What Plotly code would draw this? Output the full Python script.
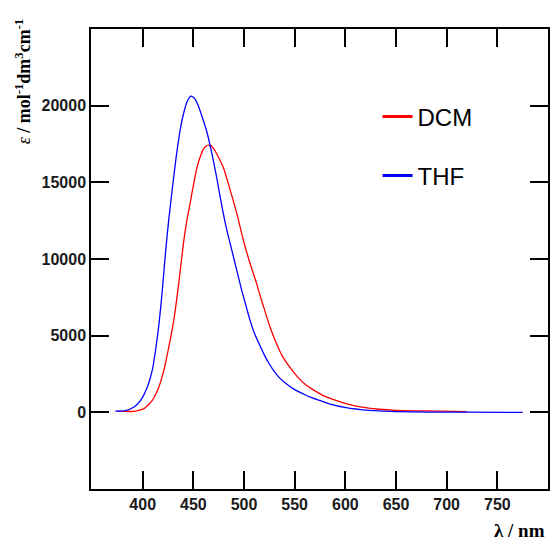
import plotly.graph_objects as go

# Absorption spectra: wavelength (nm) vs molar absorptivity
dcm_wl = [375, 382, 391.5, 401.3, 405, 409.5, 413, 416, 420.9, 425.8, 430.7, 435.6,
          440, 443.7, 447, 450.3, 453, 456.2, 460.1, 463.5, 466.7, 470, 473.2, 479.7,
          486.3, 492.8, 499.3, 505.9, 512.4, 515.7, 519, 525.5, 532, 538, 545, 553,
          561.5, 570, 577.7, 590, 600.7, 615, 633.3, 650, 682, 720]
dcm_eps = [80, 60, 65, 240, 450, 780, 1200, 1650, 2750, 4270, 6010, 8410,
           10900, 12550, 13700, 14900, 15800, 16550, 17180, 17400, 17420, 17200, 16850, 15950,
           14510, 12990, 11240, 9720, 8410, 7650, 6950, 5600, 4490, 3650, 2960, 2300,
           1760, 1400, 1110, 800, 570, 350, 200, 130, 90, 50]

thf_wl = [373, 382, 391.5, 398, 404.6, 409.5, 412.7, 416, 419.3, 422.5, 425.8, 429.1,
          432, 434, 437.3, 440.5, 443.8, 447.6, 450, 452, 455.2, 458, 463.3, 468.2,
          473.2, 478, 483, 487.9, 492.8, 497.7, 500, 505.9, 510, 515, 520, 525, 530,
          535, 542, 550, 558, 566, 574.5, 587, 600.7, 615, 633.3, 650, 682, 720, 775]
thf_eps = [80, 100, 350, 780, 1650, 2750, 4050, 5700, 7900, 10400, 12600, 14500,
           16100, 17100, 18540, 19520, 20250, 20620, 20550, 20400, 19950, 19400, 18300, 16900,
           15250, 13500, 11900, 10590, 9280, 7970, 7420, 6010, 5200, 4450, 3750, 3150, 2650,
           2250, 1850, 1480, 1220, 970, 780, 500, 300, 180, 90, 50, 20, 10, 0]

x_ticks = [400, 450, 500, 550, 600, 650, 700, 750]
y_ticks = [0, 5000, 10000, 15000, 20000]

fig = go.Figure()
fig.add_trace(go.Scatter(x=dcm_wl, y=dcm_eps, mode="lines", showlegend=False,
                         line=dict(color="#ff0000", width=1.3, shape="spline", smoothing=0.6)))
fig.add_trace(go.Scatter(x=thf_wl, y=thf_eps, mode="lines", showlegend=False,
                         line=dict(color="#0000ff", width=1.3, shape="spline", smoothing=0.6)))
# legend entries with thicker sample lines
fig.add_trace(go.Scatter(x=[None], y=[None], mode="lines", name="DCM", legendgroup="a",
                         line=dict(color="#ff0000", width=3)))
fig.add_trace(go.Scatter(x=[None], y=[None], mode="lines", name="THF", legendgroup="b",
                         line=dict(color="#0000ff", width=3)))

axis_common = dict(
    showline=True, linecolor="black", linewidth=1.5, mirror="allticks",
    ticks="inside", ticklen=18, tickwidth=1.5, tickcolor="black",
    showgrid=False, zeroline=False,
    tickfont=dict(family="Liberation Sans", size=16, color="#1a1a1a", weight="bold"),
)

fig.update_xaxes(range=[349, 800], tickvals=x_ticks,
                 ticktext=[str(v) for v in x_ticks], **axis_common)
fig.update_yaxes(range=[-5000, 25000], tickvals=y_ticks,
                 ticktext=[str(v) for v in y_ticks], **axis_common)

fig.update_layout(
    width=550, height=542,
    margin=dict(l=91, r=0, t=29, b=53),
    plot_bgcolor="white", paper_bgcolor="white",
    legend=dict(x=0.627, y=0.858, xanchor="left", yanchor="top",
                font=dict(family="Liberation Sans", size=24, color="black"),
                traceorder="grouped", tracegroupgap=25, bgcolor="rgba(0,0,0,0)"),
    annotations=[
        dict(text="<i>ε</i><b> / mol<sup>-1</sup>dm<sup>3</sup>cm<sup>-1</sup></b>",
             xref="paper", yref="paper", x=-0.149, y=0.746,
             xanchor="center", yanchor="bottom", textangle=-90, showarrow=False,
             font=dict(family="Liberation Serif", size=18, color="black")),
        dict(text="<b>λ / nm</b>", xref="paper", yref="paper", x=0.998, y=-0.09,
             xanchor="right", yanchor="middle", showarrow=False,
             font=dict(family="Liberation Serif", size=19, color="black")),
    ],
)

fig.write_html("out.html")
